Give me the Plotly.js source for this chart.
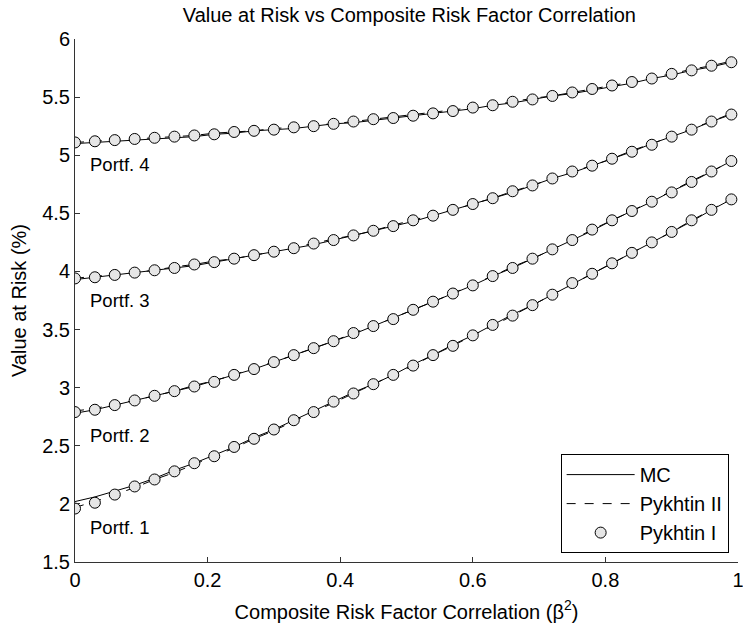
<!DOCTYPE html>
<html>
<head>
<meta charset="utf-8">
<script src="https://cdn.plot.ly/plotly-3.0.1.min.js"></script>
<style>html,body{margin:0;padding:0;background:#fff;}#chart{width:743px;height:635px;}</style>
</head>
<body>
<div id="chart"></div>
<script>
const beta2 = [0,0.03,0.06,0.09,0.12,0.15,0.18,0.21,0.24,0.27,0.30,0.33,0.36,0.39,0.42,0.45,0.48,0.51,0.54,0.57,0.60,0.63,0.66,0.69,0.72,0.75,0.78,0.81,0.84,0.87,0.90,0.93,0.96,0.99];

const portfNames = ["Portf. 1","Portf. 2","Portf. 3","Portf. 4"];
const labelX = [0.02,0.02,0.02,0.02];
const labelY = [1.80,2.59,3.75,4.92];

// Pykhtin I (markers)
const pyk1_p1 = [1.96,2.01,2.08,2.15,2.21,2.28,2.35,2.41,2.49,2.56,2.64,2.72,2.79,2.88,2.95,3.03,3.11,3.19,3.28,3.36,3.45,3.54,3.62,3.71,3.80,3.90,3.98,4.07,4.16,4.25,4.34,4.44,4.53,4.62];
const pyk1_p2 = [2.79,2.81,2.85,2.89,2.93,2.97,3.01,3.05,3.11,3.16,3.22,3.28,3.34,3.40,3.47,3.53,3.59,3.67,3.74,3.81,3.88,3.96,4.03,4.11,4.19,4.27,4.36,4.44,4.52,4.60,4.68,4.77,4.86,4.95];
const pyk1_p3 = [3.94,3.95,3.97,3.99,4.01,4.03,4.06,4.08,4.11,4.14,4.17,4.20,4.24,4.27,4.31,4.35,4.39,4.44,4.48,4.53,4.58,4.63,4.69,4.74,4.80,4.86,4.91,4.97,5.03,5.09,5.16,5.22,5.29,5.35];
const pyk1_p4 = [5.11,5.12,5.13,5.14,5.15,5.16,5.17,5.18,5.20,5.21,5.22,5.24,5.25,5.27,5.29,5.31,5.32,5.34,5.36,5.38,5.41,5.43,5.46,5.48,5.51,5.54,5.57,5.60,5.63,5.66,5.70,5.73,5.77,5.80];

// MC (solid)
const mc_p1 = [2.02,2.06,2.11,2.16,2.22,2.29,2.35,2.42,2.49,2.57,2.64,2.72,2.80,2.88,2.96,3.03,3.11,3.20,3.28,3.37,3.45,3.54,3.63,3.71,3.80,3.89,3.98,4.07,4.16,4.25,4.34,4.43,4.53,4.62];
const mc_p2 = [2.78,2.81,2.85,2.89,2.93,2.97,3.01,3.06,3.11,3.16,3.22,3.28,3.34,3.40,3.46,3.53,3.60,3.67,3.74,3.81,3.88,3.96,4.03,4.11,4.19,4.27,4.35,4.44,4.52,4.60,4.69,4.77,4.86,4.95];
const mc_p3 = [3.93,3.95,3.97,3.99,4.01,4.03,4.05,4.08,4.11,4.14,4.17,4.20,4.23,4.27,4.31,4.35,4.39,4.43,4.48,4.53,4.58,4.63,4.68,4.74,4.80,4.85,4.91,4.97,5.03,5.10,5.16,5.22,5.29,5.35];
const mc_p4 = [5.10,5.11,5.12,5.13,5.14,5.15,5.16,5.18,5.19,5.21,5.22,5.23,5.25,5.27,5.28,5.30,5.32,5.34,5.36,5.38,5.40,5.43,5.45,5.48,5.51,5.53,5.56,5.59,5.62,5.66,5.69,5.73,5.76,5.80];

// Pykhtin II (dashed)
const pyk2_p1 = [1.97,2.02,2.08,2.14,2.21,2.27,2.34,2.41,2.48,2.56,2.63,2.71,2.79,2.87,2.95,3.03,3.11,3.19,3.28,3.36,3.45,3.53,3.62,3.71,3.80,3.89,3.98,4.07,4.16,4.25,4.34,4.44,4.53,4.63];
const pyk2_p2 = [2.80,2.82,2.86,2.89,2.93,2.97,3.02,3.06,3.11,3.17,3.22,3.28,3.34,3.40,3.47,3.53,3.60,3.67,3.74,3.81,3.89,3.96,4.04,4.11,4.19,4.27,4.36,4.44,4.52,4.61,4.69,4.78,4.86,4.95];
const pyk2_p3 = [3.94,3.96,3.97,3.99,4.01,4.04,4.06,4.09,4.11,4.14,4.17,4.21,4.24,4.28,4.31,4.35,4.40,4.44,4.49,4.53,4.58,4.63,4.69,4.74,4.80,4.86,4.91,4.97,5.04,5.10,5.16,5.23,5.29,5.36];
const pyk2_p4 = [5.11,5.12,5.13,5.14,5.15,5.16,5.17,5.19,5.20,5.21,5.23,5.24,5.26,5.27,5.29,5.31,5.33,5.35,5.37,5.39,5.41,5.43,5.46,5.49,5.51,5.54,5.57,5.60,5.63,5.67,5.70,5.74,5.77,5.81];

const xTicks = [0,0.2,0.4,0.6,0.8,1];
const xTickText = ["0","0.2","0.4","0.6","0.8","1"];
const yTicks = [1.5,2,2.5,3,3.5,4,4.5,5,5.5,6];
const yTickText = ["1.5","2","2.5","3","3.5","4","4.5","5","5.5","6"];

const FONT = "Liberation Sans, Arial, Helvetica, sans-serif";
const FS = 20;
const mcSets = [mc_p1,mc_p2,mc_p3,mc_p4];
const pyk2Sets = [pyk2_p1,pyk2_p2,pyk2_p3,pyk2_p4];
const pyk1Sets = [pyk1_p1,pyk1_p2,pyk1_p3,pyk1_p4];

const traces = [];
mcSets.forEach((ys,i)=>traces.push({x:beta2,y:ys,type:'scatter',mode:'lines',name:'MC',legendgroup:'mc',showlegend:i===0,line:{color:'#000',width:1},hoverinfo:'skip'}));
pyk2Sets.forEach((ys,i)=>traces.push({x:beta2,y:ys,type:'scatter',mode:'lines',name:'Pykhtin II',legendgroup:'p2',showlegend:i===0,line:{color:'#000',width:1,dash:'dash'},hoverinfo:'skip'}));
pyk1Sets.forEach((ys,i)=>traces.push({x:beta2,y:ys,type:'scatter',mode:'markers',name:'Pykhtin I',legendgroup:'p1',showlegend:i===0,marker:{symbol:'circle',size:11,color:'#e6e6e6',line:{color:'#000',width:1}},hoverinfo:'skip'}));

const annotations = portfNames.map((t,i)=>({x:labelX[i],y:labelY[i],xref:'x',yref:'y',text:t,showarrow:false,xanchor:'left',yanchor:'middle',font:{family:FONT,size:18.5,color:'#000'}}));

const layout = {
  width:743,height:635,
  margin:{l:75,r:5,t:39,b:73,pad:0},
  paper_bgcolor:'#fff',plot_bgcolor:'#fff',
  font:{family:FONT,size:FS,color:'#000'},
  title:{text:'Value at Risk vs Composite Risk Factor Correlation',font:{family:FONT,size:FS,color:'#000'},x:0.551,xanchor:'center',y:0.976,yanchor:'middle',yref:'container'},
  xaxis:{range:[0,1],tickvals:xTicks,ticktext:xTickText,ticks:'inside',ticklen:5,tickcolor:'#333',showline:true,linecolor:'#333',linewidth:1,showgrid:false,zeroline:false,mirror:false,ticklabeloverflow:'allow',
    title:{text:'Composite Risk Factor Correlation (β<sup>2</sup>)',font:{family:FONT,size:FS,color:'#000'},standoff:14},tickfont:{family:FONT,size:FS,color:'#000'}},
  yaxis:{range:[1.5,6],tickvals:yTicks,ticktext:yTickText,ticks:'inside',ticklen:5,tickcolor:'#333',showline:true,linecolor:'#333',linewidth:1,showgrid:false,zeroline:false,mirror:false,
    title:{text:'Value at Risk (%)',font:{family:FONT,size:FS,color:'#000'},standoff:10},tickfont:{family:FONT,size:FS,color:'#000'}},
  legend:{x:0.7325,xanchor:'left',y:0.017,yanchor:'bottom',xref:'paper',yref:'paper',bgcolor:'#fff',bordercolor:'#000',borderwidth:1,font:{family:FONT,size:FS,color:'#000'},itemwidth:68,tracegroupgap:0},
  annotations:annotations,
  showlegend:true
};

Plotly.newPlot('chart',traces,layout,{displayModeBar:false,staticPlot:true});
</script>
</body>
</html>
